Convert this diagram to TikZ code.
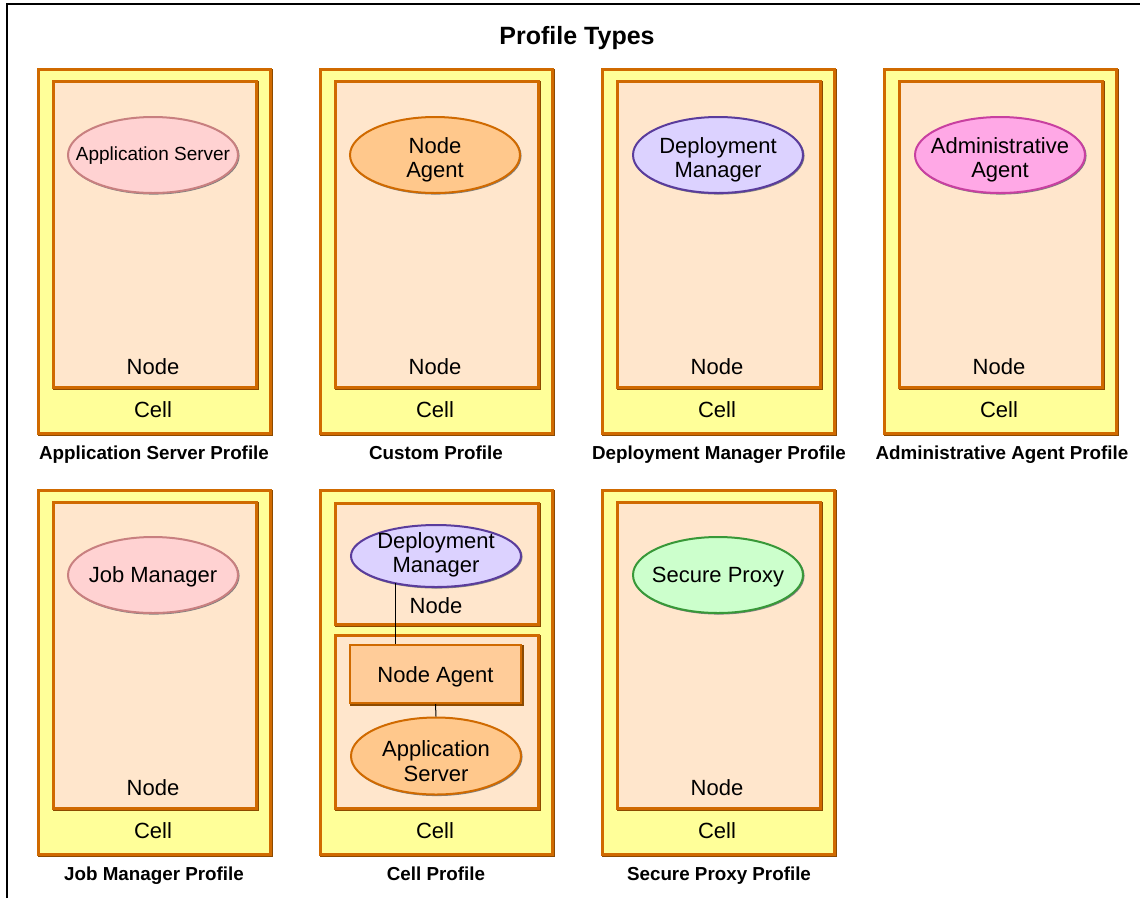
\documentclass[tikz,border=0pt]{standalone}
\usepackage{fontspec}
\setmainfont{Liberation Sans}
\usetikzlibrary{shapes.geometric,shadows}
\definecolor{cellY}{HTML}{FFFF99}
\definecolor{nodeF}{HTML}{FFE6CC}
\definecolor{borderC}{HTML}{D06A00}
\definecolor{shadowC}{HTML}{8C4A00}
\definecolor{agentF}{HTML}{FFC88C}
\definecolor{asF}{HTML}{FFD2D2}
\definecolor{asB}{HTML}{C88080}
\definecolor{dmF}{HTML}{DCD2FF}
\definecolor{dmB}{HTML}{5A3C9C}
\definecolor{aaF}{HTML}{FFA8E6}
\definecolor{aaB}{HTML}{C840A0}
\definecolor{spF}{HTML}{CCFFCC}
\definecolor{spB}{HTML}{389838}
\definecolor{rectF}{HTML}{FFCC99}
\tikzset{
  boxshadow/.style={general shadow={draw=shadowC,fill=none,line width=2.5pt,shadow xshift=1.3pt,shadow yshift=-1.3pt}},
  cellbox/.style={rectangle,draw=borderC,line width=2.5pt,fill=cellY,anchor=north west,inner sep=0pt,boxshadow,minimum width=232pt,minimum height=364pt},
  nodebox/.style={rectangle,draw=borderC,line width=2.5pt,fill=nodeF,anchor=north west,inner sep=0pt,boxshadow},
  ell/.style={ellipse,line width=2pt,inner sep=0pt,minimum width=170pt,minimum height=76pt,
    general shadow={draw=black!50,fill=none,line width=1.5pt,shadow xshift=0.8pt,shadow yshift=-0.8pt}},
  etx/.style={align=center,inner sep=0pt,font=\fontsize{22}{24.5}\selectfont},
  lbl/.style={font=\fontsize{22}{24}\selectfont,inner sep=0pt},
  plbl/.style={font=\bfseries\fontsize{18.8}{22}\selectfont,inner sep=0pt,anchor=base},
  conn/.style={draw=black,line width=1pt}
}
\begin{document}
\begin{tikzpicture}[x=1pt,y=-1pt]
\useasboundingbox (0,0) rectangle (1140,898);
\coordinate (fbl) at (7,898);
\coordinate (ftl) at (7,4);
\coordinate (ftr) at (1140,4);
\draw[line width=1.5pt] (fbl) -- (ftl) -- (ftr);
\node[font=\bfseries\fontsize{25}{28}\selectfont,inner sep=0pt] (title) at (577,38) {Profile Types};

% ---------- Row 1 ----------
% Application Server Profile
\node[cellbox] (c1) at (37,68) {};
\node[nodebox,minimum width=203pt,minimum height=306pt] (n1) at (52,80) {};
\node[ell,draw=asB,fill=asF] (e1) at (153,155) {};
\node[etx,font=\fontsize{19}{22}\selectfont] (e1t) at (153,156) {Application Server};
\node[lbl] (n1l) at (153,367) {Node};
\node[lbl] (c1l) at (153,410) {Cell};
\node[plbl] (p1) at (154,459) {Application Server Profile};

% Custom Profile
\node[cellbox] (c2) at (319,68) {};
\node[nodebox,minimum width=203pt,minimum height=306pt] (n2) at (334,80) {};
\node[ell,draw=borderC,fill=agentF] (e2) at (435,155) {};
\node[etx] (e2t) at (435,160) {Node\\Agent};
\node[lbl] (n2l) at (435,367) {Node};
\node[lbl] (c2l) at (435,410) {Cell};
\node[plbl] (p2) at (436,459) {Custom Profile};

% Deployment Manager Profile
\node[cellbox] (c3) at (601,68) {};
\node[nodebox,minimum width=203pt,minimum height=306pt] (n3) at (616,80) {};
\node[ell,draw=dmB,fill=dmF] (e3) at (718,155) {};
\node[etx] (e3t) at (718,160) {Deployment\\Manager};
\node[lbl] (n3l) at (717,367) {Node};
\node[lbl] (c3l) at (717,410) {Cell};
\node[plbl] (p3) at (719,459) {Deployment Manager Profile};

% Administrative Agent Profile
\node[cellbox] (c4) at (883,68) {};
\node[nodebox,minimum width=203pt,minimum height=306pt] (n4) at (898,80) {};
\node[ell,draw=aaB,fill=aaF] (e4) at (1000,155) {};
\node[etx] (e4t) at (1000,160) {Administrative\\Agent};
\node[lbl] (n4l) at (999,367) {Node};
\node[lbl] (c4l) at (999,410) {Cell};
\node[plbl] (p4) at (1002,459) {Administrative Agent Profile};

% ---------- Row 2 ----------
% Job Manager Profile
\node[cellbox] (c5) at (37,489) {};
\node[nodebox,minimum width=203pt,minimum height=306pt] (n5) at (52,501) {};
\node[ell,draw=asB,fill=asF] (e5) at (153,575) {};
\node[etx] (e5t) at (153,577) {Job Manager};
\node[lbl] (n5l) at (153,788) {Node};
\node[lbl] (c5l) at (153,831) {Cell};
\node[plbl] (p5) at (154,880) {Job Manager Profile};

% Cell Profile
\node[cellbox] (c6) at (319,489) {};
\node[nodebox,minimum width=203pt,minimum height=121pt] (n6a) at (334,502) {};
\node[ell,draw=dmB,fill=dmF,minimum height=62pt] (dm6) at (436,556) {};
\node[etx] (dm6t) at (436,555) {Deployment\\Manager};
\node[lbl] (n6l) at (436,606) {Node};
\node[nodebox,minimum width=203pt,minimum height=173pt] (n6b) at (334,634) {};
\node[rectangle,draw=borderC,line width=2pt,fill=rectF,boxshadow,minimum width=171pt,minimum height=58pt,inner sep=0pt] (na6) at (435.5,674) {};
\node[lbl] (na6t) at (435.5,677) {Node Agent};
\node[ell,draw=borderC,fill=agentF,minimum height=77pt] (as6) at (436,756) {};
\node[etx] (as6t) at (436,761) {Application\\Server};
\coordinate (l1) at ([shift={(-41,27)}]dm6.center);
\draw[conn] (l1) -- (na6.north -| l1);
\draw[conn] (na6.south) -- (as6.north);
\node[lbl] (c6l) at (435,831) {Cell};
\node[plbl] (p6) at (436,880) {Cell Profile};

% Secure Proxy Profile
\node[cellbox] (c7) at (601,489) {};
\node[nodebox,minimum width=203pt,minimum height=306pt] (n7) at (616,501) {};
\node[ell,draw=spB,fill=spF] (e7) at (718,575) {};
\node[etx] (e7t) at (718,577) {Secure Proxy};
\node[lbl] (n7l) at (717,788) {Node};
\node[lbl] (c7l) at (717,831) {Cell};
\node[plbl] (p7) at (719,880) {Secure Proxy Profile};
\end{tikzpicture}
\end{document}
